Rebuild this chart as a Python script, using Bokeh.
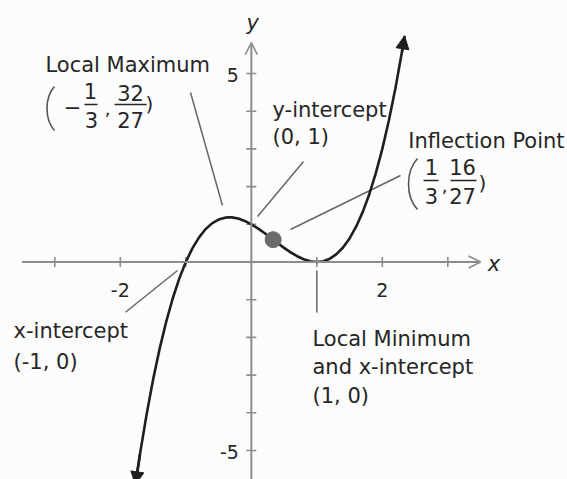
from bokeh.plotting import figure
from bokeh.models import Range1d, Arrow, OpenHead, NormalHead
from bokeh.core.properties import value
from bokeh.embed import file_html
from bokeh.resources import INLINE

# Points along the cubic graph
curve_x = [-1.77, -1.7, -1.6, -1.5, -1.4, -1.3, -1.2, -1.1, -1.0, -0.9, -0.8,
           -0.7, -0.6, -0.5, -0.4, -0.333, -0.3, -0.2, -0.1, 0.0, 0.1, 0.2,
           0.3, 0.333, 0.4, 0.5, 0.6, 0.7, 0.8, 0.9, 1.0, 1.1, 1.2, 1.3, 1.4,
           1.5, 1.6, 1.7, 1.8, 1.9, 2.0, 2.1, 2.2, 2.3, 2.34]
curve_y = [-5.908, -5.103, -4.056, -3.125, -2.304, -1.587, -0.968, -0.441, 0.0,
           0.361, 0.648, 0.867, 1.024, 1.125, 1.176, 1.185, 1.183, 1.152, 1.089,
           1.0, 0.891, 0.768, 0.637, 0.593, 0.504, 0.375, 0.256, 0.153, 0.072,
           0.019, 0.0, 0.021, 0.088, 0.207, 0.384, 0.625, 0.936, 1.323, 1.792,
           2.349, 3.0, 3.751, 4.608, 5.577, 5.997]

# Axis ticks and their labels
x_ticks = [-3, -2, -1, 1, 2, 3]
y_ticks = [-5, -4, -3, -2, -1, 1, 2, 3, 4, 5]
x_label_pos = [-2, 2]
x_label_text = ["-2", "2"]
y_label_pos = [5, -5]
y_label_text = ["5", "-5"]

# Marked points of the graph
inflection_x = [1 / 3]
inflection_y = [16 / 27]

FONT = value("DejaVu Sans")
TXT = "#262626"
AX = "#8c8c8c"
LEAD = "#666666"
PX_X = 1 / 65.5   # data units per pixel, horizontally
PX_Y = 1 / 37.7   # data units per pixel, vertically


def up(ys, px=7):
    """Lift text baselines by a number of pixels."""
    return [v + px * PX_Y for v in ys]


p = figure(width=567, height=479, output_backend="svg", toolbar_location=None,
           x_range=Range1d(-3.829, 4.827), y_range=Range1d(-5.769, 6.936),
           x_axis_type=None, y_axis_type=None, min_border=0,
           background_fill_color="#fcfcfc", border_fill_color="#fcfcfc")
p.grid.visible = False
p.outline_line_color = None

# Coordinate axes with open arrowheads
p.add_layout(Arrow(x_start=-3.5, y_start=0, x_end=3.5, y_end=0,
                   line_color=AX, line_width=2,
                   end=OpenHead(size=12, line_color=AX, line_width=1.6)))
p.add_layout(Arrow(x_start=0, y_start=-5.9, x_end=0, y_end=5.82,
                   line_color=AX, line_width=2,
                   end=OpenHead(size=12, line_color=AX, line_width=1.6)))

# Tick crosses
tx = 5 * PX_X
ty = 5 * PX_Y
p.segment(x0=x_ticks, y0=[-ty] * len(x_ticks), x1=x_ticks, y1=[ty] * len(x_ticks),
          line_color=AX, line_width=1.6)
p.segment(x0=[-tx] * len(y_ticks), y0=y_ticks, x1=[tx] * len(y_ticks), y1=y_ticks,
          line_color=AX, line_width=1.6)

p.text(x=x_label_pos, y=up([-0.94] * len(x_label_pos)), text=x_label_text,
       text_font=FONT, text_font_size="19px", text_color=TXT,
       text_align="center", text_baseline="alphabetic")
p.text(x=[-0.19] * len(y_label_pos), y=up([4.79, -5.21], 6), text=y_label_text,
       text_font=FONT, text_font_size="19px", text_color=TXT,
       text_align="right", text_baseline="alphabetic")
p.text(x=[3.61], y=up([-0.25]), text=["x"], text_font=FONT, text_font_size="21px",
       text_font_style="italic", text_color=TXT, text_baseline="alphabetic")
p.text(x=[0.02], y=up([6.25], 3), text=["y"], text_font=FONT, text_font_size="21px",
       text_font_style="italic", text_color=TXT, text_align="center",
       text_baseline="alphabetic")

# Leader lines from the notes to the graph
p.segment(x0=[-0.928, 0.095, 0.598, -1.921, 1.0],
          y0=[4.496, 1.207, 0.862, -1.332, -0.225],
          x1=[-0.440, 0.797, 2.278, -1.127, 1.0],
          y1=[1.499, 2.666, 2.294, -0.225, -1.34],
          line_color=LEAD, line_width=1.5)

# The graph
p.line(curve_x, curve_y, line_color="#1e1e1e", line_width=2.6)
p.add_layout(Arrow(x_start=curve_x[1], y_start=curve_y[1],
                   x_end=curve_x[0], y_end=curve_y[0],
                   line_color="#1e1e1e", line_width=2.6,
                   end=NormalHead(size=13, fill_color="#1e1e1e", line_color="#1e1e1e")))
p.add_layout(Arrow(x_start=curve_x[-2], y_start=curve_y[-2],
                   x_end=curve_x[-1], y_end=curve_y[-1],
                   line_color="#1e1e1e", line_width=2.6,
                   end=NormalHead(size=13, fill_color="#1e1e1e", line_color="#1e1e1e")))

p.scatter(inflection_x, inflection_y, size=16, fill_color="#6a6a6a",
          line_color="#6a6a6a")

# Notes
notes_x = [-3.142, 0.324, 0.324, 2.397, -3.63, -3.63, 0.934, 0.934, 0.934]
notes_y = [5.027, 3.833, 3.143, 3.011, -2.029, -2.825, -2.241, -2.958, -3.727]
notes_text = ["Local Maximum", "y-intercept", "(0, 1)", "Inflection Point",
              "x-intercept", "(-1, 0)", "Local Minimum", "and x-intercept", "(1, 0)"]
p.text(x=notes_x, y=up(notes_y), text=notes_text, text_font=FONT,
       text_font_size="21px", text_color=TXT, text_align="left",
       text_baseline="alphabetic")

# Coordinates written as fractions
p.bezier(x0=[-3.005, 2.537], y0=[4.655, 2.745], x1=[-3.005, 2.537], y1=[3.488, 1.393],
         cx0=[-3.157, 2.354], cy0=[4.363, 2.401], cx1=[-3.157, 2.354], cy1=[3.780, 1.737],
         line_color="#555555", line_width=1.6)
p.text(x=[-2.73], y=up([4.045], 2), text=["\u2212"], text_font=FONT,
       text_font_size="21px", text_color=TXT, text_align="center",
       text_baseline="alphabetic")
# numerators
p.text(x=[-2.455, -1.844, 2.751, 3.224],
       y=up([4.284, 4.257, 2.294, 2.268], 9),
       text=["1", "32", "1", "16"],
       text_font=FONT, text_font_size="21px", text_color=TXT,
       text_align="center", text_baseline="alphabetic")
# denominators
p.text(x=[-2.44, -1.844, 2.751, 3.224],
       y=up([3.568, 3.568, 1.578, 1.552]),
       text=["3", "27", "3", "27"],
       text_font=FONT, text_font_size="21px", text_color=TXT,
       text_align="center", text_baseline="alphabetic")
p.segment(x0=[-2.547, -2.089, 2.629, 3.041], y0=[4.178, 4.178, 2.162, 2.162],
          x1=[-2.348, -1.600, 2.858, 3.438], y1=[4.178, 4.178, 2.162, 2.162],
          line_color=TXT, line_width=1.6)
p.text(x=[-2.195, 2.95], y=up([3.939, 1.897], 5), text=[",", ","], text_font=FONT,
       text_font_size="18px", text_color=TXT, text_align="center",
       text_baseline="alphabetic")
p.text(x=[-1.615, 3.469], y=up([3.992, 1.897]), text=[")", ")"], text_font=FONT,
       text_font_size="20px", text_color=TXT, text_align="left",
       text_baseline="alphabetic")

open("out.html", "w").write(file_html(p, INLINE))
